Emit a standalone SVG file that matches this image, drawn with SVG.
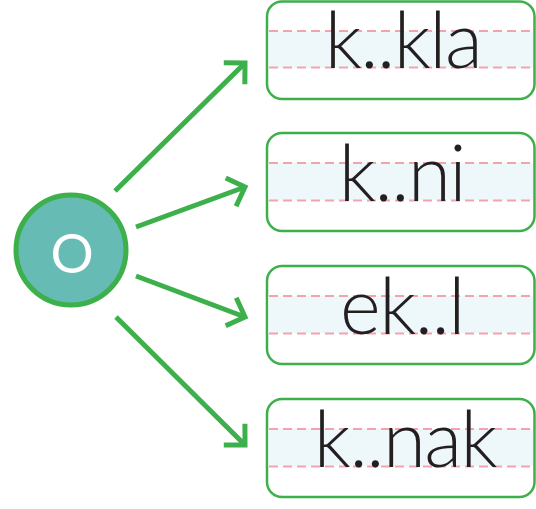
<svg xmlns="http://www.w3.org/2000/svg" width="536" height="509" viewBox="0 0 536 509">
<style>
.box{fill:#ffffff;stroke:#3db04b;stroke-width:2.5}
.band{fill:#eef7fa}
.dash{stroke:#f5a3ab;stroke-width:2;stroke-dasharray:9 5;fill:none}
.word{font-family:Lato,"Noto Sans","DejaVu Sans",sans-serif;font-weight:300;font-size:78px;letter-spacing:-1.5px;fill:#231f20;text-anchor:middle}
.conn{stroke:#3db04b;stroke-width:5;fill:none}
</style>
<defs>
<marker id="ah" markerUnits="userSpaceOnUse" orient="auto" viewBox="-20 -20 25 40" markerWidth="25" markerHeight="40" refX="0" refY="0">
<path d="M-15,-15 L0,0 L-15,15" fill="none" stroke="#3db04b" stroke-width="5" stroke-linejoin="miter"/>
</marker>
</defs>
<g id="connectors">
<line class="conn" x1="115" y1="191" x2="245" y2="63" marker-end="url(#ah)"/>
<line class="conn" x1="136" y1="227" x2="245" y2="187" marker-end="url(#ah)"/>
<line class="conn" x1="136" y1="276" x2="245" y2="317" marker-end="url(#ah)"/>
<line class="conn" x1="116" y1="317" x2="245" y2="445" marker-end="url(#ah)"/>
</g>
<g id="center">
<circle cx="71" cy="250" r="55" fill="#66bbb5" stroke="#3db04b" stroke-width="5"/>
<text x="72" y="273" font-family="Lato,'Noto Sans','DejaVu Sans',sans-serif" font-weight="400" font-size="54" fill="#ffffff" text-anchor="middle">O</text>
</g>
<g id="box1">
<rect class="box" x="267" y="1.5" width="267.5" height="97.5" rx="15"/>
<rect class="band" x="268.5" y="31" width="264.5" height="37"/>
<line class="dash" x1="269" y1="31" x2="533" y2="31"/>
<line class="dash" x1="269" y1="67.5" x2="533" y2="67.5"/>
<text class="word" x="403" y="68">k..kla</text>
</g>
<g id="box2">
<rect class="box" x="267" y="133" width="267.5" height="98" rx="15"/>
<rect class="band" x="268.5" y="163" width="264.5" height="37"/>
<line class="dash" x1="269" y1="163" x2="533" y2="163"/>
<line class="dash" x1="269" y1="200.5" x2="533" y2="200.5"/>
<text class="word" x="402" y="201">k..ni</text>
</g>
<g id="box3">
<rect class="box" x="267" y="266" width="267.5" height="98" rx="15"/>
<rect class="band" x="268.5" y="296" width="264.5" height="37"/>
<line class="dash" x1="269" y1="296" x2="533" y2="296"/>
<line class="dash" x1="269" y1="333.5" x2="533" y2="333.5"/>
<text class="word" x="402" y="334">ek..l</text>
</g>
<g id="box4">
<rect class="box" x="267" y="399" width="267.5" height="98" rx="15"/>
<rect class="band" x="268.5" y="429" width="264.5" height="37"/>
<line class="dash" x1="269" y1="429" x2="533" y2="429"/>
<line class="dash" x1="269" y1="466.5" x2="533" y2="466.5"/>
<text class="word" x="405" y="467">k..nak</text>
</g>
</svg>
